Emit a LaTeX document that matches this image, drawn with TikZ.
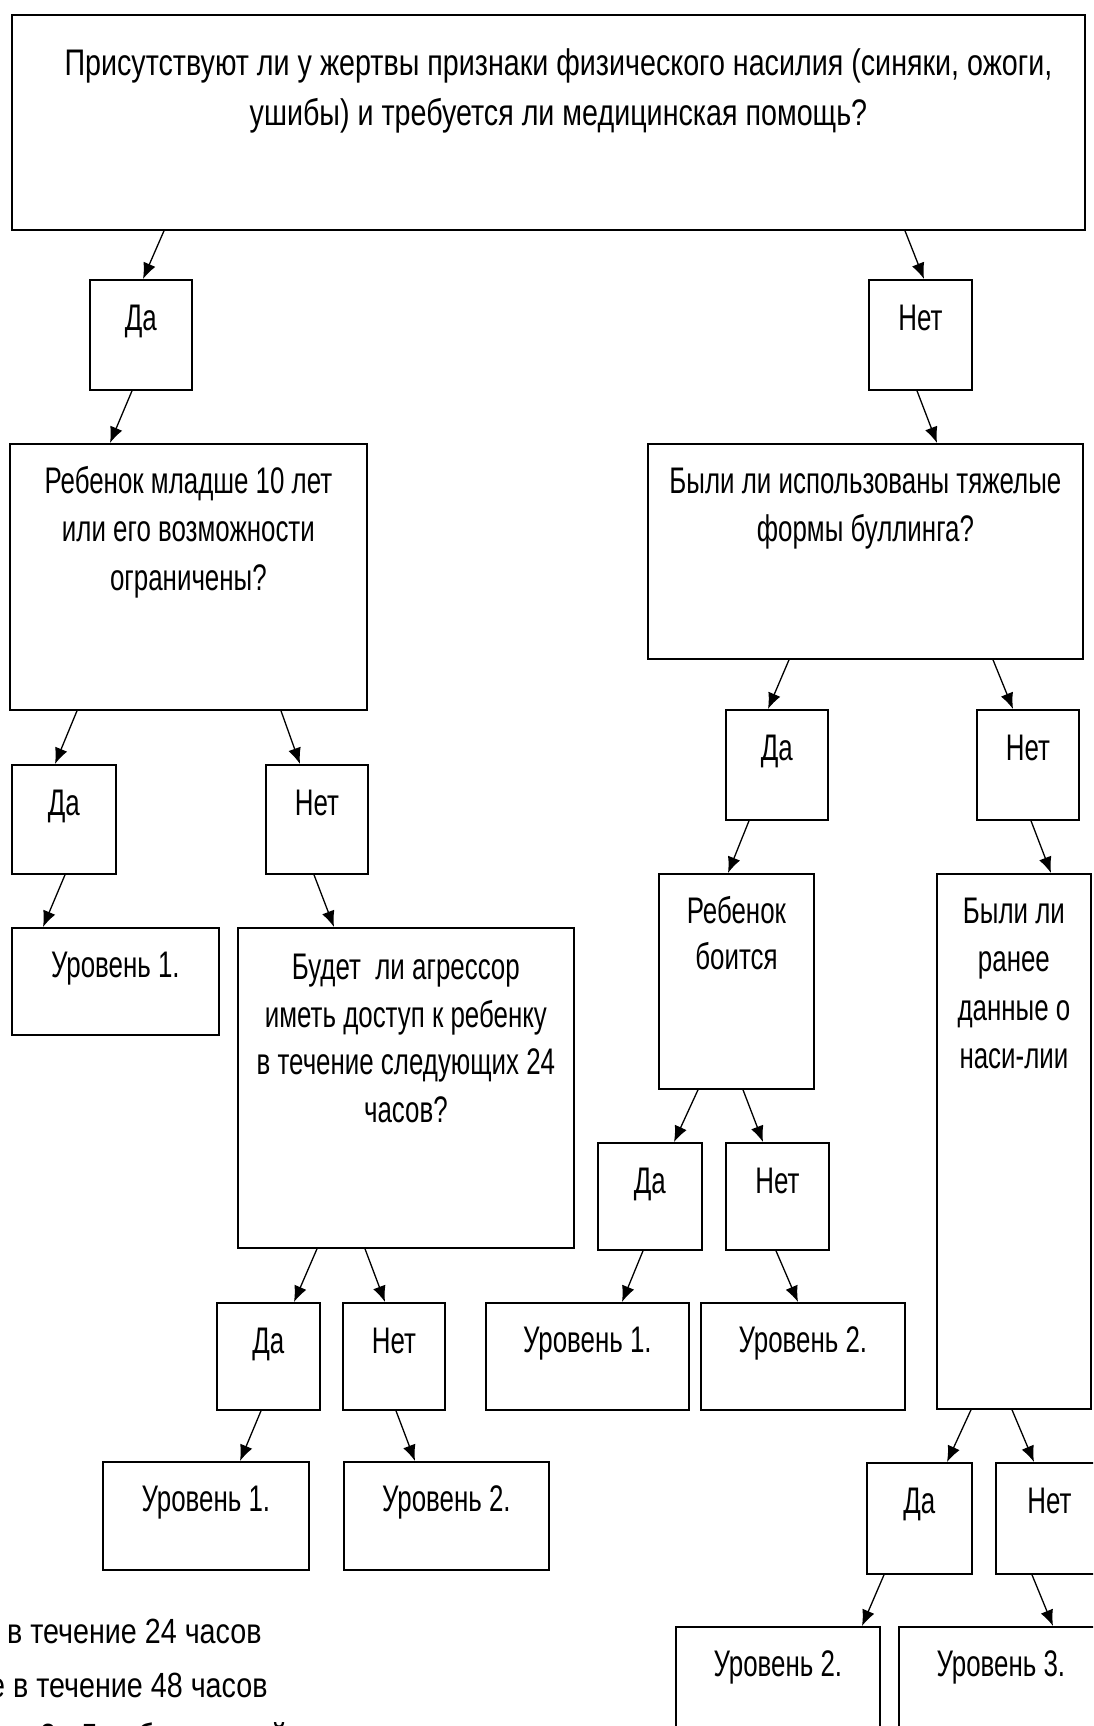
\documentclass[tikz,border=0pt]{standalone}
\usepackage{fontspec}
\setmainfont{Liberation Sans}
\newfontfamily\boxfont[FakeStretch=0.70]{Liberation Sans}
\newfontfamily\topfont[FakeStretch=0.775]{Liberation Sans}
\newfontfamily\notefont[FakeStretch=0.82]{Liberation Sans}
\usetikzlibrary{arrows.meta}
\begin{document}
\begin{tikzpicture}[x=1pt,y=-1pt,
  box/.style={draw, line width=1.8pt, inner sep=0pt, anchor=north west},
  txt/.style={inner sep=0pt, anchor=base, align=center, font=\boxfont\fontsize{37}{48.5}\selectfont},
  note/.style={inner sep=0pt, anchor=base west, font=\notefont\fontsize{35}{52}\selectfont},
  arr/.style={line width=1.3pt, -{Latex[length=16pt,width=13pt]}}]
\useasboundingbox (0,0) rectangle (1093,1726);
\clip (0,0) rectangle (1093,1726);
% boxes
\node[box, minimum width=1073pt, minimum height=215pt] (top) at (11,14) {};
\node[box, minimum width=102pt, minimum height=110pt] (da1) at (89,279) {};
\node[box, minimum width=103pt, minimum height=110pt] (net1) at (868,279) {};
\node[box, minimum width=357pt, minimum height=266pt] (reb) at (9,443) {};
\node[box, minimum width=435pt, minimum height=215pt] (byli) at (647,443) {};
\node[box, minimum width=104pt, minimum height=109pt] (da2l) at (11,764) {};
\node[box, minimum width=102pt, minimum height=109pt] (net2l) at (265,764) {};
\node[box, minimum width=102pt, minimum height=110pt] (da2r) at (725,709) {};
\node[box, minimum width=102pt, minimum height=110pt] (net2r) at (976,709) {};
\node[box, minimum width=207pt, minimum height=107pt] (ur1a) at (11,927) {};
\node[box, minimum width=336pt, minimum height=320pt] (budet) at (237,927) {};
\node[box, minimum width=155pt, minimum height=215pt] (boits) at (658,873) {};
\node[box, minimum width=154pt, minimum height=535pt] (ranee) at (936,873) {};
\node[box, minimum width=104pt, minimum height=107pt] (da3a) at (597,1142) {};
\node[box, minimum width=103pt, minimum height=107pt] (net3a) at (725,1142) {};
\node[box, minimum width=103pt, minimum height=107pt] (da3b) at (216,1302) {};
\node[box, minimum width=102pt, minimum height=107pt] (net3b) at (342,1302) {};
\node[box, minimum width=203pt, minimum height=107pt] (ur1b) at (485,1302) {};
\node[box, minimum width=204pt, minimum height=107pt] (ur2b) at (700,1302) {};
\node[box, minimum width=206pt, minimum height=108pt] (ur1c) at (102,1461) {};
\node[box, minimum width=205pt, minimum height=108pt] (ur2c) at (343,1461) {};
\node[box, minimum width=105pt, minimum height=111pt] (da4) at (866,1462) {};
\node[box, minimum width=115pt, minimum height=111pt] (net4) at (995,1462) {};
\node[box, minimum width=204pt, minimum height=114pt] (ur2d) at (675,1626) {};
\node[box, minimum width=212pt, minimum height=114pt] (ur3d) at (898,1626) {};
% texts (anchor base = last line, so shift by the number of lines)
\node[txt, font=\topfont\fontsize{37}{50}\selectfont] (ttop) at ([xshift=10pt,yshift=-111pt]top.north) {Присутствуют ли у жертвы признаки физического насилия (синяки, ожоги,\\ушибы) и требуется ли медицинская помощь?};
\node[txt] (tda1) at ([yshift=-51pt]da1.north) {Да};
\node[txt] (tnet1) at ([yshift=-51pt]net1.north) {Нет};
\node[txt] (treb) at ([yshift=-147pt]reb.north) {Ребенок младше 10 лет\\или его возможности\\ограничены?};
\node[txt] (tbyli) at ([yshift=-98.5pt]byli.north) {Были ли использованы тяжелые\\формы буллинга?};
\node[txt] (tda2l) at ([yshift=-51pt]da2l.north) {Да};
\node[txt] (tnet2l) at ([yshift=-51pt]net2l.north) {Нет};
\node[txt] (tda2r) at ([yshift=-51pt]da2r.north) {Да};
\node[txt] (tnet2r) at ([yshift=-51pt]net2r.north) {Нет};
\node[txt] (tur1a) at ([yshift=-50pt]ur1a.north) {Уровень 1.};
\node[txt, font=\boxfont\fontsize{37}{47.5}\selectfont] (tbudet) at ([yshift=-195pt]budet.north) {Будет\ \ ли агрессор\\иметь доступ к ребенку\\в течение следующих 24\\часов?};
\node[txt, font=\boxfont\fontsize{37}{46}\selectfont] (tboits) at ([yshift=-96pt]boits.north) {Ребенок\\боится};
\node[txt] (tranee) at ([yshift=-195.5pt]ranee.north) {Были ли\\ранее\\данные о\\наси-лии};
\node[txt] (tda3a) at ([yshift=-51pt]da3a.north) {Да};
\node[txt] (tnet3a) at ([yshift=-51pt]net3a.north) {Нет};
\node[txt] (tda3b) at ([yshift=-51pt]da3b.north) {Да};
\node[txt] (tnet3b) at ([yshift=-51pt]net3b.north) {Нет};
\node[txt] (tur1b) at ([yshift=-50pt]ur1b.north) {Уровень 1.};
\node[txt] (tur2b) at ([yshift=-50pt]ur2b.north) {Уровень 2.};
\node[txt] (tur1c) at ([yshift=-50pt]ur1c.north) {Уровень 1.};
\node[txt] (tur2c) at ([yshift=-50pt]ur2c.north) {Уровень 2.};
\node[txt] (tda4) at ([yshift=-51pt]da4.north) {Да};
\node[txt] (tnet4) at ([xshift=-4pt,yshift=-51pt]net4.north) {Нет};
\node[txt] (tur2d) at ([yshift=-50pt]ur2d.north) {Уровень 2.};
\node[txt] (tur3d) at ([xshift=-4pt,yshift=-50pt]ur3d.north) {Уровень 3.};
% notes
\node[note] (n1) at (-17,1643) {е в течение 24 часов};
\node[note] (n2) at (-11,1697) {е в течение 48 часов};
\node[note] (n3) at (40,1748) {3 - 5 рабочих дней};
% connectors
\draw[arr] ([xshift=153pt]top.south west) -- ([xshift=54pt]da1.north west);
\draw[arr] ([xshift=894pt]top.south west) -- ([xshift=56pt]net1.north west);
\draw[arr] ([xshift=43pt]da1.south west) -- ([xshift=101pt]reb.north west);
\draw[arr] ([xshift=49pt]net1.south west) -- ([xshift=290pt]byli.north west);
\draw[arr] ([xshift=68pt]reb.south west) -- ([xshift=44pt]da2l.north west);
\draw[arr] ([xshift=272pt]reb.south west) -- ([xshift=35pt]net2l.north west);
\draw[arr] ([xshift=142pt]byli.south west) -- ([xshift=43pt]da2r.north west);
\draw[arr] ([xshift=346pt]byli.south west) -- ([xshift=37pt]net2r.north west);
\draw[arr] ([xshift=54pt]da2l.south west) -- ([xshift=32pt]ur1a.north west);
\draw[arr] ([xshift=49pt]net2l.south west) -- ([xshift=97pt]budet.north west);
\draw[arr] ([xshift=24pt]da2r.south west) -- ([xshift=70pt]boits.north west);
\draw[arr] ([xshift=55pt]net2r.south west) -- ([xshift=115pt]ranee.north west);
\draw[arr] ([xshift=40pt]boits.south west) -- ([xshift=77pt]da3a.north west);
\draw[arr] ([xshift=85pt]boits.south west) -- ([xshift=38pt]net3a.north west);
\draw[arr] ([xshift=80pt]budet.south west) -- ([xshift=78pt]da3b.north west);
\draw[arr] ([xshift=128pt]budet.south west) -- ([xshift=43pt]net3b.north west);
\draw[arr] ([xshift=46pt]da3a.south west) -- ([xshift=137pt]ur1b.north west);
\draw[arr] ([xshift=51pt]net3a.south west) -- ([xshift=98pt]ur2b.north west);
\draw[arr] ([xshift=45pt]da3b.south west) -- ([xshift=138pt]ur1c.north west);
\draw[arr] ([xshift=54pt]net3b.south west) -- ([xshift=72pt]ur2c.north west);
\draw[arr] ([xshift=35pt]ranee.south west) -- ([xshift=81pt]da4.north west);
\draw[arr] ([xshift=76pt]ranee.south west) -- ([xshift=39pt]net4.north west);
\draw[arr] ([xshift=18pt]da4.south west) -- ([xshift=187pt]ur2d.north west);
\draw[arr] ([xshift=37pt]net4.south west) -- ([xshift=155pt]ur3d.north west);
\end{tikzpicture}
\end{document}
